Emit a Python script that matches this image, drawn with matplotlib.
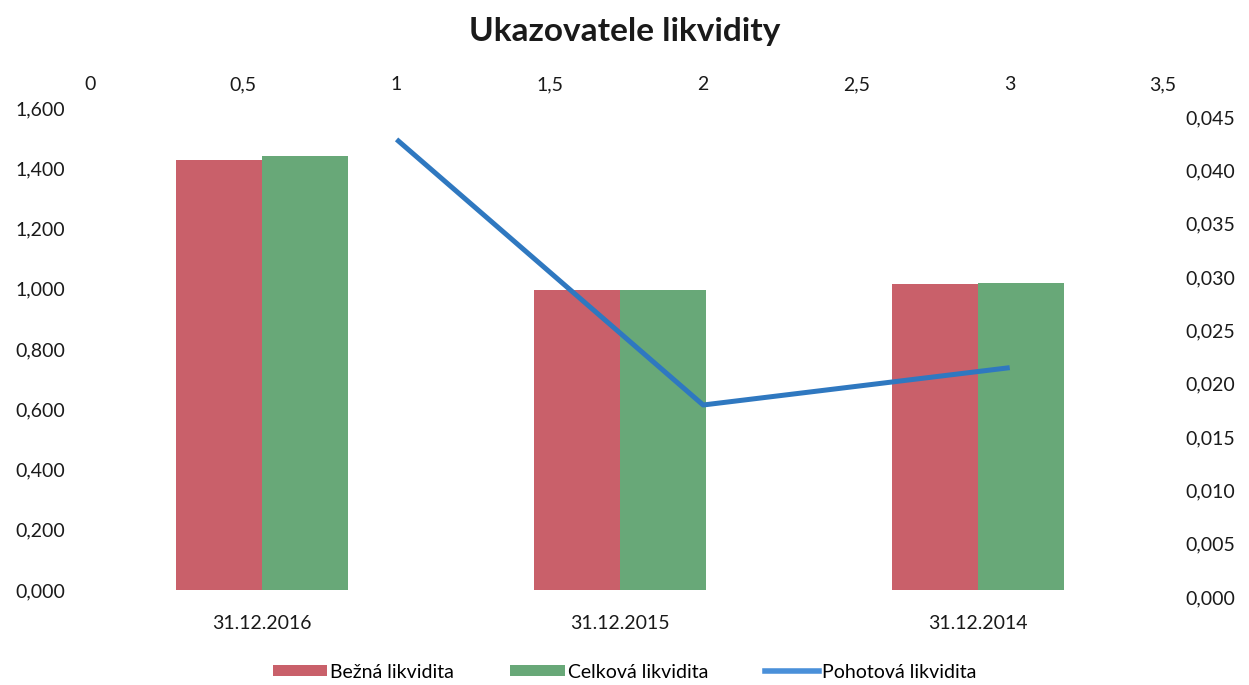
import matplotlib
matplotlib.use("Agg")
import matplotlib.pyplot as plt
import numpy as np
from matplotlib.patches import Patch
from matplotlib.lines import Line2D
from matplotlib.ticker import FuncFormatter, MultipleLocator

plt.rcParams['font.family'] = ['Lato', 'DejaVu Sans']

# data
categories = ["31.12.2016", "31.12.2015", "31.12.2014"]
bezna = [1.427, 0.996, 1.016]
celkova = [1.441, 0.996, 1.019]
pohotova_x = [1, 2, 3]
pohotova = [0.0429, 0.0180, 0.0215]

red = "#C9606A"
green = "#68A878"
blue = "#2F78C0"
txt = "#1a1a1a"

W, H = 1249, 685
fig = plt.figure(figsize=(W / 100, H / 100), dpi=100)


def comma(fmt):
    return FuncFormatter(lambda v, p: format(v, fmt).replace(".", ","))


# bar axes (left y, bottom categories)
ax = fig.add_axes([83 / W, (H - 590) / H, (1157 - 83) / W, (590 - 108) / H])
x = np.arange(len(categories))
bw = 0.24
ax.bar(x - bw / 2, bezna, bw, color=red)
ax.bar(x + bw / 2, celkova, bw, color=green)
ax.set_xlim(-0.5, 2.5)
ax.set_ylim(0, 1.6)
ax.yaxis.set_major_locator(MultipleLocator(0.2))
ax.yaxis.set_major_formatter(comma(".3f"))
ax.set_xticks(x)
ax.set_xticklabels(categories)
ax.tick_params(axis="both", length=0, labelsize=14, colors=txt)
ax.tick_params(axis="x", pad=18)
ax.tick_params(axis="y", pad=13)
for s in ax.spines.values():
    s.set_visible(False)

# line axes (right y, top x)
ax2 = fig.add_axes([90 / W, (H - 597) / H, (1163 - 90) / W, (597 - 117) / H])
ax2.patch.set_visible(False)
ax2.plot(pohotova_x, pohotova, color=blue, lw=3.6, solid_capstyle="butt")
ax2.set_xlim(0, 3.5)
ax2.set_ylim(0, 0.045)
ax2.xaxis.tick_top()
ax2.yaxis.tick_right()
ax2.xaxis.set_major_locator(MultipleLocator(0.5))
ax2.yaxis.set_major_locator(MultipleLocator(0.005))
ax2.xaxis.set_major_formatter(comma("g"))
ax2.yaxis.set_major_formatter(comma(".3f"))
ax2.tick_params(axis="both", length=0, labelsize=14, colors=txt)
ax2.tick_params(axis="x", pad=17)
ax2.tick_params(axis="y", pad=16)
for s in ax2.spines.values():
    s.set_visible(False)

fig.text(0.5, 1 - 32 / H, "Ukazovatele likvidity", ha="center", va="center",
         fontsize=24, fontweight="bold", color=txt)

handles = [
    Patch(facecolor=red, edgecolor="none"),
    Patch(facecolor=green, edgecolor="none"),
    Line2D([0], [0], color="#4A90D9", lw=4),
]
fig.legend(handles, ["Bežná likvidita", "Celková likvidita", "Pohotová likvidita"],
           loc="center", bbox_to_anchor=(0.5, 1 - 672 / H), ncol=3, frameon=False,
           fontsize=14, handlelength=2.8, handleheight=0.55, columnspacing=2.9,
           handletextpad=0.15)

fig.savefig("out.png", dpi=100)
